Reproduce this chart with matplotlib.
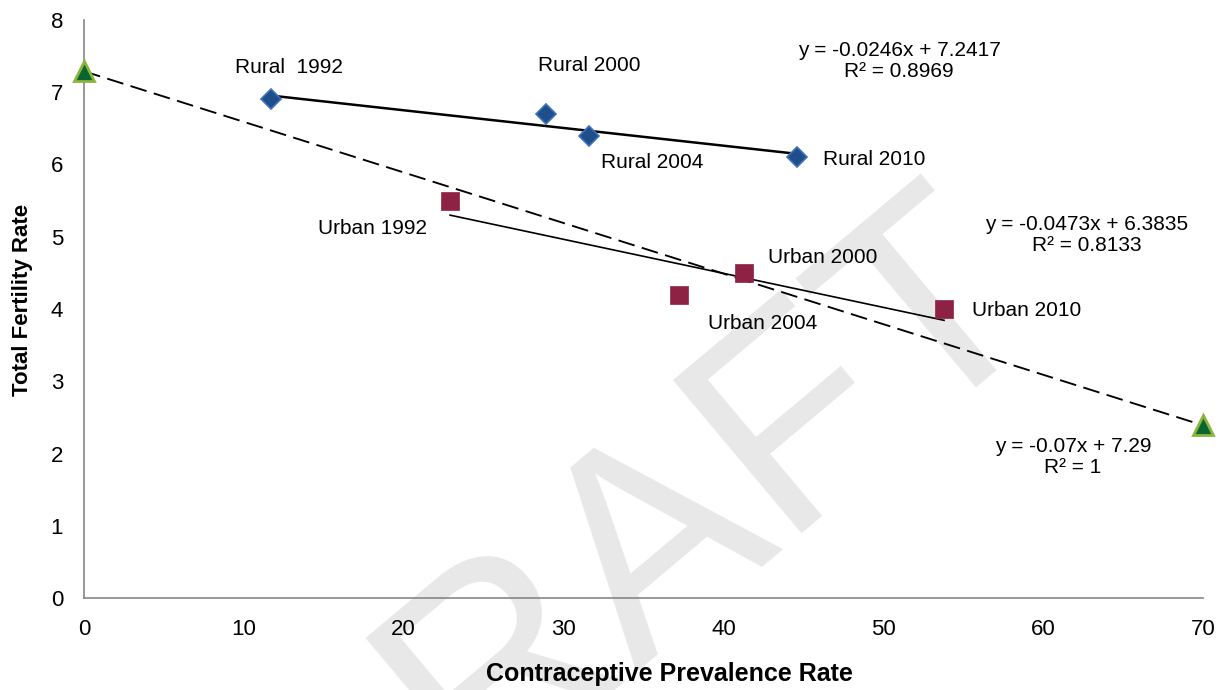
import numpy as np
import matplotlib
matplotlib.use("Agg")
import matplotlib.pyplot as plt

# ---- data ----
rural_labels = ["Rural  1992", "Rural 2000", "Rural 2004", "Rural 2010"]
rural_cpr = [11.7, 28.9, 31.6, 44.6]
rural_tfr = [6.9, 6.7, 6.4, 6.1]

urban_labels = ["Urban 1992", "Urban 2000", "Urban 2004", "Urban 2010"]
urban_cpr = [22.9, 41.3, 37.2, 53.8]
urban_tfr = [5.5, 4.5, 4.2, 4.0]

target_cpr = [0, 70]
target_tfr = [7.29, 2.39]

eq_rural = "y = -0.0246x + 7.2417\nR² = 0.8969"
eq_urban = "y = -0.0473x + 6.3835\nR² = 0.8133"
eq_target = "y = -0.07x + 7.29\nR² = 1"

x_ticks = [0, 10, 20, 30, 40, 50, 60, 70]
y_ticks = [0, 1, 2, 3, 4, 5, 6, 7, 8]

# ---- figure ----
plt.rcParams['font.family'] = ['Liberation Sans', 'DejaVu Sans']
W, H = 1225, 690
fig = plt.figure(figsize=(W / 100, H / 100), dpi=100)
ax = fig.add_axes([84 / W, 1 - 598 / H, (1203 - 84) / W, (598 - 20) / H])
ax.set_zorder(2)
ax.set_xlim(0, 70)
ax.set_ylim(0, 8)
ax.set_xticks(x_ticks)
ax.set_yticks(y_ticks)
ax.tick_params(length=0, labelsize=16, pad=15, colors='#000000')
for s in ['top', 'right']:
    ax.spines[s].set_visible(False)
for s in ['left', 'bottom']:
    ax.spines[s].set_color('#868686')
    ax.spines[s].set_linewidth(1.2)
ax.patch.set_alpha(0)

# watermark (behind the axes)
fig.text(680 / W, 1 - 615 / H, "DRAFT", fontsize=208, color='#E8E8E8',
         rotation=40, rotation_mode='anchor', ha='center', va='baseline',
         zorder=0)

# trend lines
def trend(xs, ys):
    m, b = np.polyfit(xs, ys, 1)
    xx = np.array([min(xs), max(xs)])
    return xx, m * xx + b

xx, yy = trend(rural_cpr, rural_tfr)
ax.plot(xx, yy, color='black', lw=1.8, zorder=3)
xx, yy = trend(urban_cpr, urban_tfr)
ax.plot(xx, yy, color='black', lw=1.2, zorder=3)
xx, yy = trend(target_cpr, target_tfr)
ax.plot(xx, yy, color='black', lw=1.35, linestyle=(0, (9, 4)), zorder=3)

# markers
ax.plot(rural_cpr, rural_tfr, 'D', ms=10, mfc='#1F4E8C', mec='#3F72B8', mew=1.2,
        zorder=4, clip_on=False)
ax.plot(urban_cpr, urban_tfr, 's', ms=13, mfc='#8E2245', mec='#8E2245', mew=0.5,
        zorder=4, clip_on=False)
ax.plot(target_cpr, target_tfr, '^', ms=15, mfc='#0A6630', mec='#8CB43C', mew=2,
        zorder=5, clip_on=False)

# point labels (offsets in pixels)
rural_off = [(18, 32), (43, 48), (63, -27), (77, -2)]
urban_off = [(-78, -28), (78, 15), (84, -29), (83, -1)]
for lab, x, y, off in zip(rural_labels, rural_cpr, rural_tfr, rural_off):
    ax.annotate(lab, (x, y), xytext=off, textcoords='offset pixels',
                ha='center', va='center', fontsize=15, zorder=6)
for lab, x, y, off in zip(urban_labels, urban_cpr, urban_tfr, urban_off):
    ax.annotate(lab, (x, y), xytext=off, textcoords='offset pixels',
                ha='center', va='center', fontsize=15, zorder=6)

# equations (pixel positions in figure)
def ftext(px, py, s, **kw):
    fig.text(px / W, 1 - py / H, s, **kw)

ftext(899, 61, eq_rural, ha='center', va='center', fontsize=15,
      multialignment='center', linespacing=1.12)
ftext(1087, 235, eq_urban, ha='center', va='center', fontsize=15,
      multialignment='center', linespacing=1.12)
ftext(1073, 457, eq_target, ha='center', va='center', fontsize=15,
      multialignment='center', linespacing=1.12)

# axis titles
ftext(669, 674, "Contraceptive Prevalence Rate", ha='center', va='center',
      fontsize=18, fontweight='bold')
ftext(23, 300, "Total Fertility Rate", ha='center', va='center',
      fontsize=16, fontweight='bold', rotation=90)

fig.savefig("out.png", dpi=100)
